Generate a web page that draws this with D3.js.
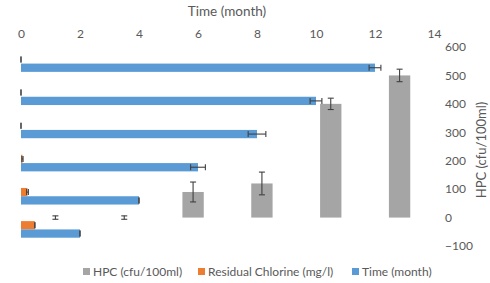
<!DOCTYPE html>
<html>
<head>
<meta charset="utf-8">
<script src="https://cdn.jsdelivr.net/npm/d3@7"></script>
<style>
  body { margin: 0; background: #fff; }
  text { font-family: Lato, "Liberation Sans", sans-serif; fill: #595959; }
</style>
</head>
<body>
<div id="chart"></div>
<script>
// samples (category axis is hidden in the original)
var samples = ["S1", "S2", "S3", "S4", "S5", "S6"];
// Time (month) - horizontal bars
var timeMonth = [12, 10, 8, 6, 4, 2];
var timeErr = [0.2, 0.2, 0.3, 0.25, 0, 0];
// Residual Chlorine (mg/l) - horizontal bars
var chlorine = [0, 0, 0, 0.05, 0.22, 0.47];
var chlorineErr = [0, 0, 0, 0.02, 0.03, 0];
// HPC (cfu/100ml) - columns on secondary axis
var hpc = [500, 400, 120, 90, 0, 0];
var hpcErr = [22, 20, 40, 35, 6, 6];

var timeTicks = [0, 2, 4, 6, 8, 10, 12, 14];
var hpcTicks = [-100, 0, 100, 200, 300, 400, 500, 600];

var W = 490, H = 283;
var plot = {left: 21, right: 434, top: 47, bottom: 246};

var colors = {hpc: "#a5a5a5", cl: "#ed7d31", time: "#5b9bd5", err: "#404040"};

var svg = d3.select("#chart").append("svg")
  .attr("width", W)
  .attr("height", H);

// scales
var x = d3.scaleLinear().domain([0, 14]).range([plot.left, plot.right]);
var yBand = d3.scaleBand().domain(samples).range([plot.top, plot.bottom]).paddingInner(0.5).paddingOuter(0.25);
var ySub = d3.scaleBand().domain(["cl", "time"]).range([0, yBand.bandwidth()]);
var xBand = d3.scaleBand().domain(samples.slice().reverse()).range([plot.left, plot.right]).paddingInner(0.69).paddingOuter(0.345);
var y2 = d3.scaleLinear().domain([-100, 600]).range([plot.bottom, plot.top]);

// top axis (time)
var topAxis = svg.append("g")
  .attr("transform", "translate(0,38)")
  .call(d3.axisTop(x).tickValues(timeTicks).tickSize(0).tickPadding(0));
topAxis.select(".domain").remove();
topAxis.selectAll("text").style("font-size", "12px").style("font-family", null).attr("fill", null);

svg.append("text")
  .attr("x", 227).attr("y", 16)
  .attr("text-anchor", "middle")
  .style("font-size", "13.5px")
  .text("Time (month)");

// right axis (HPC)
var rightAxis = svg.append("g")
  .attr("transform", "translate(445,0)")
  .call(d3.axisRight(y2).tickValues(hpcTicks).tickSize(0).tickPadding(0));
rightAxis.select(".domain").remove();
rightAxis.selectAll("text").style("font-size", "12px").style("font-family", null).attr("fill", null);

svg.append("text")
  .attr("transform", "translate(486,150) rotate(-90)")
  .attr("text-anchor", "middle")
  .style("font-size", "13px")
  .text("HPC (cfu/100ml)");

// HPC columns
var cols = svg.append("g");
cols.selectAll("rect").data(samples).enter().append("rect")
  .attr("x", function(d) { return xBand(d); })
  .attr("width", xBand.bandwidth())
  .attr("y", function(d, i) { return y2(Math.max(0, hpc[i])); })
  .attr("height", function(d, i) { return Math.abs(y2(hpc[i]) - y2(0)); })
  .attr("fill", colors.hpc);

// horizontal bars
function hbars(vals, key, color) {
  svg.append("g").selectAll("rect").data(samples).enter().append("rect")
    .attr("x", x(0))
    .attr("y", function(d) { return yBand(d) + ySub(key); })
    .attr("height", ySub.bandwidth())
    .attr("width", function(d, i) { return x(vals[i]) - x(0); })
    .attr("fill", color);
}
hbars(chlorine, "cl", colors.cl);
hbars(timeMonth, "time", colors.time);

// horizontal error bars
function hErr(vals, errs, key) {
  var g = svg.append("g").attr("stroke", colors.err).attr("stroke-width", 1.1).attr("fill", "none");
  samples.forEach(function(s, i) {
    var cy = yBand(s) + ySub(key) + ySub.bandwidth() / 2;
    var x0 = x(vals[i] - errs[i]), x1 = x(vals[i] + errs[i]);
    g.append("line").attr("x1", x0).attr("x2", x1).attr("y1", cy).attr("y2", cy);
    g.append("line").attr("x1", x0).attr("x2", x0).attr("y1", cy - 3).attr("y2", cy + 3);
    g.append("line").attr("x1", x1).attr("x2", x1).attr("y1", cy - 3).attr("y2", cy + 3);
  });
}
hErr(chlorine, chlorineErr, "cl");
hErr(timeMonth, timeErr, "time");

// vertical error bars on HPC
var ve = svg.append("g").attr("stroke", colors.err).attr("stroke-width", 1.1).attr("fill", "none");
samples.forEach(function(s, i) {
  var cx = xBand(s) + xBand.bandwidth() / 2;
  var ya = y2(hpc[i] + hpcErr[i]), yb = y2(hpc[i] - hpcErr[i]);
  ve.append("line").attr("x1", cx).attr("x2", cx).attr("y1", ya).attr("y2", yb);
  ve.append("line").attr("x1", cx - 3).attr("x2", cx + 3).attr("y1", ya).attr("y2", ya);
  ve.append("line").attr("x1", cx - 3).attr("x2", cx + 3).attr("y1", yb).attr("y2", yb);
});

// legend
var legendItems = [
  {label: "HPC (cfu/100ml)", color: colors.hpc, x: 83},
  {label: "Residual Chlorine (mg/l)", color: colors.cl, x: 198},
  {label: "Time (month)", color: colors.time, x: 352}
];
var lg = svg.append("g");
legendItems.forEach(function(d) {
  lg.append("rect").attr("x", d.x).attr("y", 268).attr("width", 7).attr("height", 7).attr("fill", d.color);
  lg.append("text").attr("x", d.x + 10).attr("y", 276).style("font-size", "12px").text(d.label);
});
</script>
</body>
</html>
